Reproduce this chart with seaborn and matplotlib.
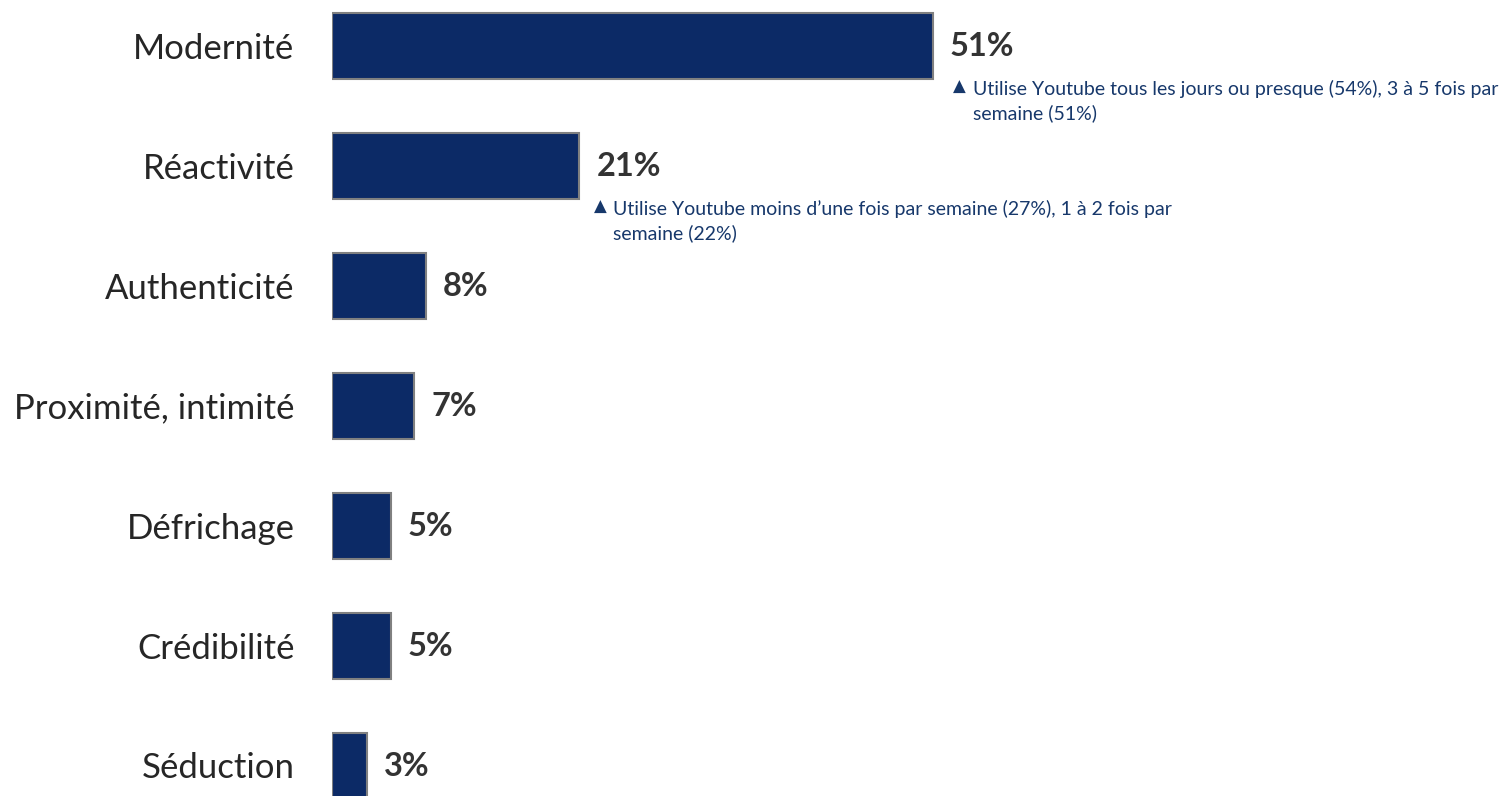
import matplotlib
matplotlib.use("Agg")
import matplotlib.pyplot as plt
import seaborn as sns
import pandas as pd

categories = ["Modernité", "Réactivité", "Authenticité", "Proximité, intimité",
              "Défrichage", "Crédibilité", "Séduction"]
values = [51, 21, 8, 7, 5, 5, 3]
value_labels = ["51%", "21%", "8%", "7%", "5%", "5%", "3%"]
notes = {
    0: "Utilise Youtube tous les jours ou presque (54%), 3 à 5 fois par\nsemaine (51%)",
    1: "Utilise Youtube moins d\u2019une fois par semaine (27%), 1 à 2 fois par\nsemaine (22%)",
}

df = pd.DataFrame({"categorie": categories, "valeur": values})

sns.set_theme(style="white")
plt.rcParams["font.family"] = ["Lato", "DejaVu Sans"]

W, H = 1505, 796
fig = plt.figure(figsize=(W / 100, H / 100), dpi=100)
px_per_unit_x = 11.78
px_per_cat = 120.0
left_px = 332
ax_w_px = W - left_px
top_px = 45.5 - 0.5 * px_per_cat
ax_h_px = 7 * px_per_cat
ax = fig.add_axes([left_px / W, 1 - (top_px + ax_h_px) / H, ax_w_px / W, ax_h_px / H])

navy = "#0c2a66"
sns.barplot(data=df, x="valeur", y="categorie", orient="h", color=navy,
            edgecolor="#808080", linewidth=1.5, width=0.55, saturation=1, ax=ax)

ax.set_xlim(0, ax_w_px / px_per_unit_x)
ax.set_ylim(6.5, -0.5)
ax.set_xlabel("")
ax.set_ylabel("")
ax.set_xticks([])
for s in ax.spines.values():
    s.set_visible(False)
ax.tick_params(axis="y", length=0, pad=27, labelsize=25, labelcolor="#262626")

for i, (v, lab) in enumerate(zip(values, value_labels)):
    ax.annotate(lab, xy=(v, i), xytext=(17, -1), textcoords="offset pixels",
                ha="left", va="center", fontsize=23.5, fontweight="bold", color="#333333")

note_color = "#17386b"
note_dx = {0: 27, 1: 21}
for i, txt in notes.items():
    v = values[i]
    dx = note_dx[i]
    ax.annotate("\u25B2", xy=(v, i), xytext=(dx, -41), textcoords="offset pixels",
                ha="center", va="center", fontsize=12, color=note_color,
                family="DejaVu Sans")
    ax.annotate(txt, xy=(v, i), xytext=(dx + 13, -34), textcoords="offset pixels",
                ha="left", va="top", fontsize=14, color=note_color, linespacing=1.42)

fig.savefig("out.png", dpi=100)
